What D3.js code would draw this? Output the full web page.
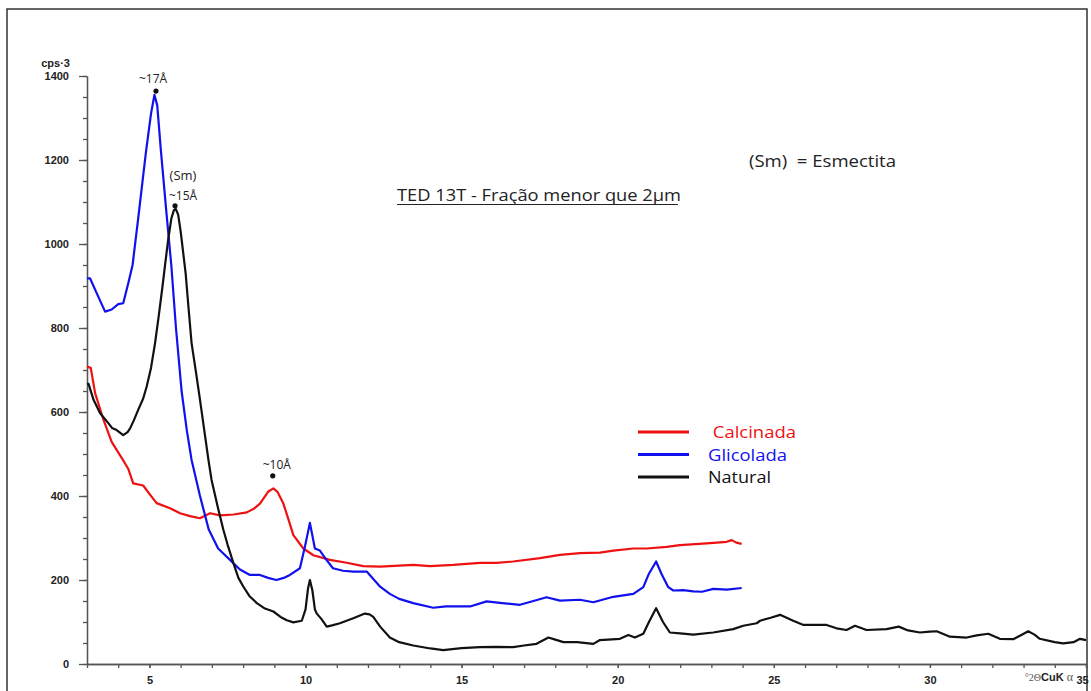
<!DOCTYPE html>
<html>
<head>
<meta charset="utf-8">
<script src="https://cdn.jsdelivr.net/npm/d3@7"></script>
<style>
  body { margin: 0; background: #fff; }
  svg { display: block; }
  .tick-label { font-family: "Liberation Sans", Arial, sans-serif; font-weight: bold; font-size: 11px; fill: #222; }
  .note { font-family: "Open Sans", "Noto Sans", sans-serif; fill: #222; }
</style>
</head>
<body>
<div id="chart"></div>
<script>
// --- Data: 2θ (°) and intensity (cps·3) ---
const NATURAL = [
  [3.0, 667], [3.05, 667], [3.21, 629], [3.42, 597], [3.69, 573], [3.8, 562], [3.95, 557],
  [4.16, 545], [4.3, 552], [4.38, 561], [4.5, 580], [4.64, 605], [4.8, 632], [4.91, 660],
  [5.05, 705], [5.18, 764], [5.3, 830], [5.42, 900], [5.5, 950], [5.6, 1010], [5.7, 1060],
  [5.78, 1080], [5.84, 1084], [5.92, 1070], [6.0, 1030], [6.08, 980], [6.16, 930], [6.25, 850],
  [6.35, 764], [6.5, 690], [6.62, 629], [6.75, 560], [6.89, 486], [6.99, 438], [7.2, 370],
  [7.37, 319], [7.5, 285], [7.69, 240], [7.85, 205], [8.01, 184], [8.2, 162], [8.44, 145],
  [8.7, 132], [8.97, 125], [9.2, 112], [9.4, 104], [9.61, 99], [9.88, 103], [10.0, 130],
  [10.08, 180], [10.14, 200], [10.22, 175], [10.3, 130], [10.36, 120], [10.5, 108], [10.68, 89],
  [10.85, 92], [11.1, 97], [11.53, 109], [11.9, 120], [12.05, 118], [12.17, 112], [12.39, 89],
  [12.7, 63], [13.0, 52], [13.45, 44], [14.0, 37], [14.41, 33], [15.0, 38], [15.59, 40],
  [16.1, 41], [16.65, 40], [17.0, 44], [17.4, 48], [17.78, 63], [18.0, 58], [18.26, 52],
  [18.7, 52], [19.22, 48], [19.43, 57], [20.07, 60], [20.34, 69], [20.55, 63], [20.82, 72],
  [21.0, 100], [21.23, 133], [21.45, 100], [21.67, 75], [22.0, 73], [22.42, 70], [23.06, 75],
  [23.7, 83], [24.02, 91], [24.45, 97], [24.56, 103], [24.9, 110], [25.2, 117], [25.62, 103],
  [25.95, 93], [26.69, 93], [27.01, 85], [27.33, 81], [27.6, 91], [27.97, 81], [28.61, 83],
  [29.0, 89], [29.3, 80], [29.68, 75], [30.0, 77], [30.22, 78], [30.64, 65], [31.18, 63],
  [31.5, 68], [31.87, 72], [32.24, 60], [32.67, 59], [32.9, 68], [33.15, 78], [33.35, 70],
  [33.52, 60], [34.0, 52], [34.27, 49], [34.6, 52], [34.81, 60], [35.0, 57]
];

const GLICOLADA = [
  [3.0, 918], [3.1, 918], [3.31, 883], [3.58, 839], [3.79, 844], [4.0, 857], [4.16, 859],
  [4.32, 906], [4.46, 950], [4.64, 1061], [4.89, 1220], [5.05, 1310], [5.16, 1355], [5.25, 1330],
  [5.37, 1220], [5.55, 1070], [5.7, 950], [5.85, 800], [6.03, 650], [6.2, 555], [6.35, 486],
  [6.62, 400], [6.9, 320], [7.2, 275], [7.58, 248], [7.9, 225], [8.22, 212], [8.54, 212],
  [8.8, 205], [9.07, 200], [9.3, 205], [9.5, 212], [9.82, 228], [9.98, 279], [10.14, 336],
  [10.3, 275], [10.46, 270], [10.67, 248], [10.88, 228], [11.2, 222], [11.53, 220], [11.96, 220],
  [12.39, 184], [12.7, 167], [13.0, 155], [13.45, 145], [14.09, 134], [14.5, 137], [15.27, 137],
  [15.8, 149], [16.3, 145], [16.87, 141], [17.3, 150], [17.72, 159], [18.15, 151], [18.79, 153],
  [19.22, 147], [19.86, 160], [20.5, 167], [20.82, 183], [21.0, 215], [21.23, 244], [21.4, 215],
  [21.62, 183], [21.78, 175], [22.1, 176], [22.42, 173], [22.7, 172], [23.06, 179], [23.5, 177],
  [23.97, 181]
];

const CALCINADA = [
  [3.0, 708], [3.12, 705], [3.26, 645], [3.53, 581], [3.79, 529], [4.15, 486], [4.32, 465],
  [4.48, 430], [4.8, 425], [5.0, 405], [5.23, 383], [5.66, 371], [5.98, 359], [6.3, 352],
  [6.62, 347], [6.94, 359], [7.26, 354], [7.7, 356], [8.12, 361], [8.35, 370], [8.54, 382],
  [8.8, 410], [8.97, 418], [9.1, 410], [9.29, 382], [9.45, 345], [9.61, 307], [9.93, 275],
  [10.25, 259], [10.78, 248], [11.32, 241], [11.85, 233], [12.39, 232], [13.45, 236], [13.99, 233],
  [14.73, 236], [15.59, 241], [16.12, 241], [16.65, 244], [17.51, 252], [18.15, 260], [18.79, 264],
  [19.43, 265], [19.86, 270], [20.5, 275], [20.93, 275], [21.57, 279], [21.99, 283], [22.85, 287],
  [23.49, 291], [23.65, 295], [23.8, 289], [23.97, 286]
];

const X_TICKS = [5, 10, 15, 20, 25, 30, 35];
const Y_TICKS = [0, 200, 400, 600, 800, 1000, 1200, 1400];

// peak markers: [2θ, cps, label]
const PEAKS = [
  [5.21, 1364, '~17Å'],
  [5.82, 1091, '~15Å'],
  [8.95, 448, '~10Å']
];

const LEGEND = [
  { name: ' Calcinada', color: '#ee1111', data: CALCINADA },
  { name: 'Glicolada', color: '#1111ee', data: GLICOLADA },
  { name: 'Natural', color: '#111111', data: NATURAL }
];
const LEGEND_TEXT_W = [88, 79, 63];

// --- Layout ---
const W = 1091, H = 691;
const x = d3.scaleLinear().domain([3, 35]).range([87, 1086]);
const y = d3.scaleLinear().domain([0, 1400]).range([664, 76]);
const axisColor = '#555';

const svg = d3.select('#chart').append('svg').attr('width', W).attr('height', H);

// frame
svg.append('path')
  .attr('d', `M7,${H + 2} L7,9 L1087,9 L1087,${H + 2}`)
  .attr('fill', 'none').attr('stroke', '#333').attr('stroke-width', 1.5);

// Y axis: minor + major
const yMinor = svg.append('g').attr('transform', `translate(${x(3)},0)`)
  .call(d3.axisLeft(y).tickValues(d3.range(0, 1401, 50)).tickSize(4).tickFormat('').tickSizeOuter(0));
const yMajor = svg.append('g').attr('transform', `translate(${x(3)},0)`)
  .call(d3.axisLeft(y).tickValues(Y_TICKS).tickSize(8).tickSizeOuter(0).tickPadding(10).tickFormat(d3.format('d')));
[yMinor, yMajor].forEach(g => {
  g.selectAll('path, line').attr('stroke', axisColor).attr('stroke-width', 1.3);
});
yMajor.selectAll('text').attr('class', 'tick-label').attr('fill', null);

svg.append('text').attr('class', 'tick-label')
  .attr('x', 70).attr('y', 67).attr('text-anchor', 'end').text('cps·3');

// X axis: minor + major
const xMinor = svg.append('g').attr('transform', `translate(0,${y(0)})`)
  .call(d3.axisBottom(x).tickValues(d3.range(3, 36, 1)).tickSize(4).tickFormat('').tickSizeOuter(0));
const xMajor = svg.append('g').attr('transform', `translate(0,${y(0)})`)
  .call(d3.axisBottom(x).tickValues(X_TICKS).tickSize(4).tickSizeOuter(0));
[xMinor, xMajor].forEach(g => {
  g.selectAll('path, line').attr('stroke', axisColor).attr('stroke-width', 1.3);
});
xMajor.selectAll('text').attr('class', 'tick-label').attr('fill', null)
  .attr('y', 20).attr('dy', 0);
xMajor.selectAll('.tick').filter(d => d === 35).select('text').attr('x', -4);

// axis title at bottom right
const xt = svg.append('text').attr('x', 1073).attr('y', 681).attr('text-anchor', 'end');
xt.append('tspan').style('font-family', '"Liberation Serif", serif').style('font-size', '10px').attr('fill', '#555').text('°2Θ');
xt.append('tspan').style('font-family', '"Liberation Sans", Arial, sans-serif').style('font-size', '11px')
  .style('font-weight', 'bold').attr('fill', '#222').text('CuK');
xt.append('tspan').style('font-family', '"Liberation Serif", serif').style('font-size', '12px').attr('fill', '#555').text(' α');

// --- Series ---
const line = d3.line().x(d => x(d[0])).y(d => y(d[1]));
LEGEND.forEach(s => {
  svg.append('path').datum(s.data).attr('d', line)
    .attr('fill', 'none').attr('stroke', s.color).attr('stroke-width', 2.2)
    .attr('stroke-linejoin', 'round');
});

// --- Peak markers ---
PEAKS.forEach(([px, py, label], i) => {
  const cx = x(px), cy = y(py);
  svg.append('circle').attr('cx', cx).attr('cy', cy).attr('r', 2.6).attr('fill', '#111');
  const off = [[-3, -8], [8, -6], [4, -7]][i];
  svg.append('text').attr('class', 'note').style('font-size', '12px')
    .attr('x', cx + off[0]).attr('y', cy + off[1]).attr('text-anchor', 'middle').text(label);
  if (i === 1) {
    svg.append('text').attr('class', 'note').style('font-size', '13px')
      .attr('x', cx + off[0]).attr('y', cy + off[1] - 20).attr('text-anchor', 'middle').text('(Sm)');
  }
});

// --- Titles ---
svg.append('text').attr('class', 'note').style('font-size', '16.5px')
  .attr('x', 397).attr('y', 201).attr('textLength', 284).attr('lengthAdjust', 'spacingAndGlyphs')
  .text('TED 13T - Fração menor que 2µm');
svg.append('line').attr('x1', 397).attr('x2', 678)
  .attr('y1', 204.5).attr('y2', 204.5).attr('stroke', '#222').attr('stroke-width', 1);

svg.append('text').attr('class', 'note').style('font-size', '17px')
  .attr('x', 749).attr('y', 167).attr('xml:space', 'preserve')
  .attr('textLength', 147).attr('lengthAdjust', 'spacingAndGlyphs').text('(Sm)  = Esmectita');

// --- Legend ---
LEGEND.forEach((s, i) => {
  const ly = 432 + i * 22.5;
  svg.append('line').attr('x1', 638).attr('x2', 689).attr('y1', ly).attr('y2', ly)
    .attr('stroke', s.color).attr('stroke-width', 3);
  svg.append('text').attr('class', 'note').style('font-size', '16.5px')
    .style('fill', s.color).attr('xml:space', 'preserve')
    .attr('textLength', LEGEND_TEXT_W[i]).attr('lengthAdjust', 'spacingAndGlyphs')
    .attr('x', 708).attr('y', ly + 6).text(s.name);
});
</script>
</body>
</html>
